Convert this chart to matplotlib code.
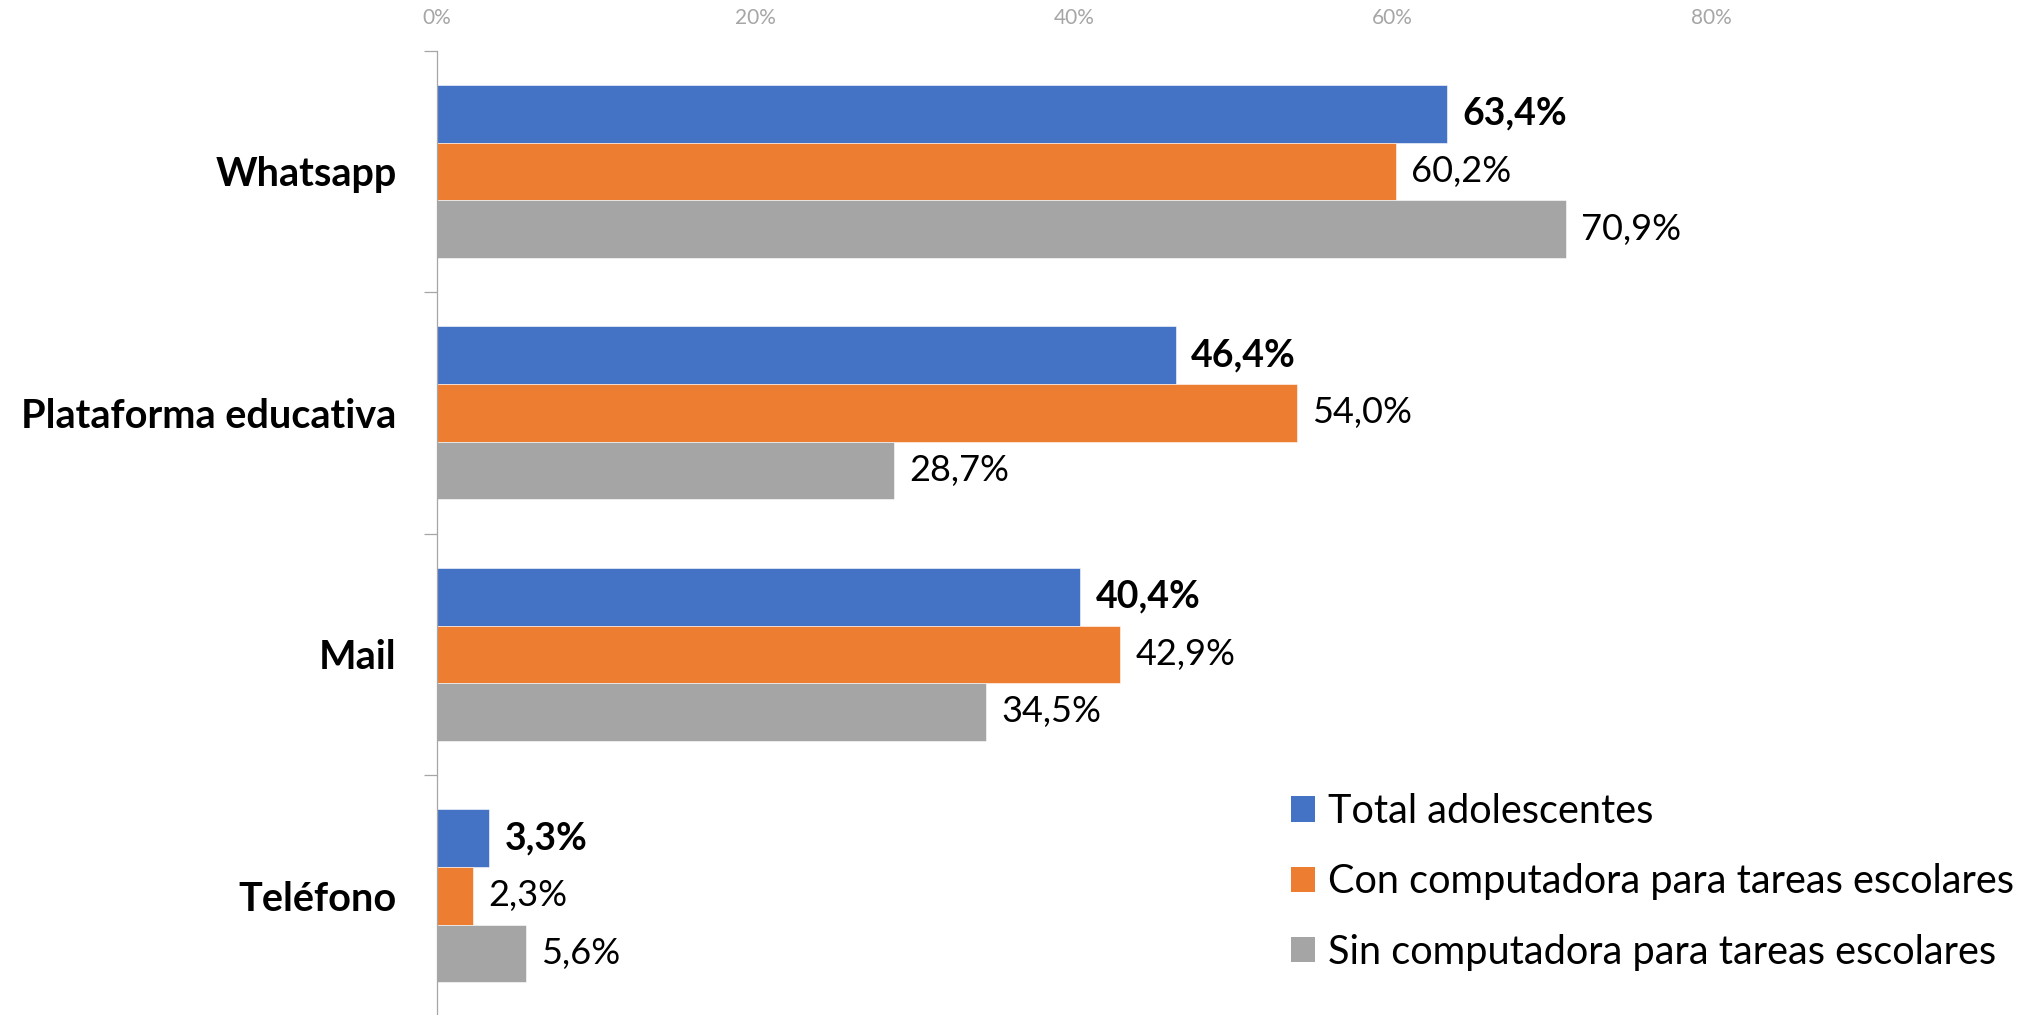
import matplotlib
matplotlib.use("Agg")
import matplotlib.pyplot as plt
from matplotlib.patches import Patch
import numpy as np

categories = ["Whatsapp", "Plataforma educativa", "Mail", "Teléfono"]
series_names = ["Total adolescentes",
                "Con computadora para tareas escolares",
                "Sin computadora para tareas escolares"]
total = [63.4, 46.4, 40.4, 3.3]
con_comp = [60.2, 54.0, 42.9, 2.3]
sin_comp = [70.9, 28.7, 34.5, 5.6]
x_ticks = [0, 20, 40, 60, 80]
x_ticklabels = ["0%", "20%", "40%", "60%", "80%"]

colors = ["#4472C4", "#ED7D31", "#A5A5A5"]
FONT = ["Lato", "DejaVu Sans"]
plt.rcParams["font.family"] = FONT

W, H = 2021, 1015
fig = plt.figure(figsize=(W / 100, H / 100), dpi=100)
ax_left = 436.7 / W
ax_top = 1 - 50.7 / H
ax_bottom = 1 - 1016.5 / H
ax_width = 1593.0 / W
ax = fig.add_axes([ax_left, ax_bottom, ax_width, ax_top - ax_bottom])

y = np.arange(len(categories))
bh = 0.2386
series = [total, con_comp, sin_comp]
offsets = [-bh, 0, bh]
for k, (vals, off) in enumerate(zip(series, offsets)):
    bars = ax.barh(y + off, vals, height=bh, color=colors[k],
                   edgecolor="white", linewidth=0.4, label=series_names[k])
    for b, v in zip(bars, vals):
        txt = f"{v:.1f}%".replace(".", ",")
        ax.annotate(txt, (v, b.get_y() + b.get_height() / 2),
                    xytext=(11, 0), textcoords="offset points",
                    ha="left", va="center",
                    fontsize=27 if k == 0 else 26,
                    fontweight="bold" if k == 0 else "normal",
                    color="black")

ax.set_xlim(0, 100)
ax.set_ylim(3.5, -0.5)

# x axis on top
ax.xaxis.tick_top()
ax.set_xticks(x_ticks)
ax.set_xticklabels(x_ticklabels)
ax.tick_params(axis="x", which="both", length=0, pad=16, labelsize=15,
               labelcolor="#A6A6A6")

# y axis: labels at category centers, ticks at boundaries
ax.set_yticks(y)
ax.set_yticklabels(categories, fontweight="bold", fontsize=28.5)
ax.set_yticks(np.arange(-0.5, len(categories) + 0.5, 1.0), minor=True)
ax.tick_params(axis="y", which="major", length=0, pad=29)
ax.tick_params(axis="y", which="minor", length=9.4, width=0.9,
               color="#A6A6A6", direction="out")

for s in ["top", "right", "bottom"]:
    ax.spines[s].set_visible(False)
ax.spines["left"].set_color("#A6A6A6")
ax.spines["left"].set_linewidth(0.9)

handles = [Patch(facecolor=c, edgecolor="none") for c in colors]
fs_leg = 28.6
fig.legend(handles, series_names, loc="upper left",
           bbox_to_anchor=(1291 / W, 1 - 793 / H),
           bbox_transform=fig.transFigure,
           frameon=False, fontsize=fs_leg, borderpad=0, borderaxespad=0,
           handlelength=0.6, handleheight=0.6, handletextpad=0.33,
           labelspacing=0.84)

fig.savefig("out.png", dpi=100)
